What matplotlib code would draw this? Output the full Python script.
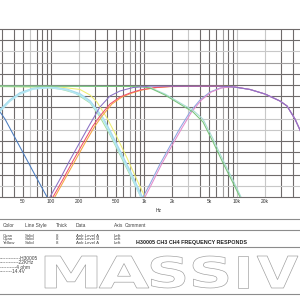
import matplotlib
matplotlib.use('Agg')
import matplotlib.pyplot as plt
from matplotlib.textpath import TextPath
from matplotlib.patches import PathPatch
from matplotlib.font_manager import FontProperties
from matplotlib.transforms import Affine2D
from matplotlib.lines import Line2D

# ---------------- data (Hz, dB) ----------------
blue_f = [22.1, 28.3, 32.0, 46.4, 67.3, 90.6, 102.5]
blue_db = [-1.61, -4.82, -6.07, -11.07, -16.07, -20.0, -21.6]

cyanA_f = [23.2, 28.3, 36.2, 46.4, 64.0, 97.5, 149, 205, 263, 362, 431, 552, 707, 952, 1104]
cyanA_db = [-6.25, -4.46, -2.68, -1.43, -0.63, -0.36, -0.80, -1.61, -2.86, -5.89, -8.21, -11.79, -15.36, -20.0, -21.79]
cyanB_f = [23.2, 28.3, 36.2, 46.4, 64.0, 97.5, 149, 205, 263, 362, 431, 552, 707, 928, 1077]
cyanB_db = [-6.43, -4.70, -2.86, -1.61, -0.71, -0.45, -0.89, -1.79, -3.04, -6.07, -8.57, -12.14, -15.71, -20.0, -21.96]

lgreen_f = [22.1, 76.2, 125, 181, 263, 336, 431, 552, 707, 928, 1077]
lgreen_db = [-0.27, -0.36, -0.71, -1.43, -3.21, -5.71, -8.93, -12.5, -16.07, -20.0, -21.96]

yellow_f = [22.1, 125, 205, 263, 312, 400, 512, 657, 841, 1025, 1160]
yellow_db = [-0.23, -0.36, -0.80, -1.79, -3.04, -5.89, -9.29, -13.04, -16.96, -20.0, -21.79]

green_f = [22.1, 906, 1160, 1682, 2630, 3365, 4310, 5525, 7070, 9065, 10770, 12200]
green_db = [-0.18, -0.27, -0.54, -1.79, -3.75, -4.82, -6.61, -10.18, -13.93, -17.5, -20.0, -21.96]
teal_db = [-0.20, -0.25, -0.45, -1.60, -3.50, -4.50, -6.10, -9.60, -13.40, -17.0, -19.6, -21.5]

purple_f = [86.1, 97.5, 125, 160, 205, 263, 336, 431, 552, 762, 1160, 6560, 9500, 13800,
            20000, 29000, 34500, 42000, 47600, 53800]
purple_db = [-21.79, -20.0, -16.79, -13.39, -10.18, -6.96, -3.93, -1.96, -1.07, -0.45, -0.21, -0.21,
             -0.36, -0.80, -1.61, -2.86, -3.75, -6.07, -8.04, -10.18]

red_f = [92.9, 105, 135, 172, 221, 282, 336, 431, 552, 707, 906, 1313, 1904, 6560, 9500, 13800,
         20000, 29000, 34500, 42000, 47600, 53800]
red_db = [-21.79, -20.0, -16.79, -13.57, -10.36, -7.32, -5.54, -3.39, -2.14, -1.43, -0.89, -0.45,
          -0.27, -0.23, -0.36, -0.80, -1.61, -2.86, -3.75, -6.07, -8.04, -10.18]

orange_f = [97.5, 110, 141, 181, 232, 297, 354, 453, 580, 743, 952, 1380, 2000, 8410]
orange_db = [-21.79, -20.0, -16.79, -13.57, -10.36, -7.32, -5.54, -3.39, -2.14, -1.43, -0.89, -0.45,
             -0.27, -0.25]

lav_f = [906, 976, 1160, 1486, 1904, 2440, 3120, 4000, 5125, 6560, 8410, 13800, 20000, 29000,
         34500, 42000, 47600, 53800]
lav_db = [-21.43, -20.0, -17.68, -14.11, -10.89, -7.68, -4.82, -2.68, -1.25, -0.54, -0.27, -0.80,
          -1.61, -2.86, -3.75, -6.07, -8.04, -10.18]

pink_f = [952, 1025, 1210, 1550, 1990, 2560, 3250, 4150, 5300, 6800, 9000, 13800, 20000, 29000,
          34500, 42000, 47600, 53800]
pink_db = [-21.43, -20.0, -17.68, -14.11, -10.89, -7.68, -4.82, -2.68, -1.25, -0.54, -0.27, -0.80,
           -1.61, -2.86, -3.75, -6.07, -8.04, -10.18]

grid_f = [20, 30, 40, 50, 60, 70, 80, 90, 100, 200, 300, 400, 500, 600, 700, 800, 900, 1000,
          2000, 3000, 4000, 5000, 6000, 7000, 8000, 9000, 10000, 20000, 30000, 40000]
grid_f_shade = ['d', 'd', 'd', 'd', 'L', 'd', 'd', 'd', 'd', 'L', 'd', 'd', 'd', 'd', 'M', 'd', 'd', 'd',
                'd', 'L', 'd', 'd', 'd', 'M', 'd', 'd', 'L', 'L', 'd', 'd']
grid_db = [8, 6, 4, 2, 0, -2, -4, -6, -8, -10, -12, -14, -16, -18]
grid_db_shade = ['d', 'L', 'M', 'd', 'd', 'd', 'd', 'L', 'L', 'd', 'd', 'd', 'd', 'L']

tick_vals = [50, 100, 200, 500, 1000, 2000, 5000, 10000, 20000]
tick_text = ['50', '100', '200', '500', '1k', '2k', '5k', '10k', '20k']

table_header = ['Color', 'Line Style', 'Thick', 'Data', 'Axis', 'Comment']
table_rows = [['Cyan', 'Solid', '8', 'Anlr.Level A', 'Left'],
              ['Cyan', 'Solid', '8', 'Anlr.Level B', 'Left'],
              ['Yellow', 'Solid', '8', 'Anlr.Level A', 'Left']]
title_text = 'H30005 CH3 CH4 FREQUENCY RESPONDS'
notes = ['H30005', '22KHz', '4 ohm', '14.4V']
logo = 'MASSIV'

# ---------------- figure ----------------
W = H = 300
fig = plt.figure(figsize=(3, 3), dpi=100)
fig.patch.set_facecolor('white')


def fx(px):
    return px / W


def fy(py):
    return 1 - py / H


ax = fig.add_axes([fx(-42), fy(197), (330 + 42) / W, (197 - 29) / H])
ax.set_xscale('log')
ax.set_xlim(10, 100000)
ax.set_ylim(-20, 10)

shade_col = {'d': '#6f6b6b', 'M': '#a09e9e', 'L': '#c8c8c8'}
for f, s in zip(grid_f, grid_f_shade):
    ax.axvline(f, color=shade_col[s], lw=0.8, zorder=1)
for d, s in zip(grid_db, grid_db_shade):
    ax.axhline(d, color=shade_col[s], lw=0.8, zorder=1)

for sp in ['left', 'right']:
    ax.spines[sp].set_visible(False)
for sp in ['top', 'bottom']:
    ax.spines[sp].set_color('#6f6b6b')
    ax.spines[sp].set_linewidth(0.8)

ax.set_yticks([])
ax.set_xticks(tick_vals)
ax.set_xticklabels(tick_text)
ax.minorticks_off()
ax.tick_params(axis='x', length=0, pad=1.5, labelsize=3.5, labelcolor='#333333')
for lab in ax.get_xticklabels():
    lab.set_fontfamily('Liberation Sans')

lw = 0.75
ax.plot(blue_f, blue_db, color='#4a7cc0', lw=lw, zorder=3)
ax.plot(lgreen_f, lgreen_db, color='#a6e0a0', lw=lw, zorder=3)
ax.plot(yellow_f, yellow_db, color='#eeee70', lw=lw, zorder=3)
ax.plot(cyanA_f, cyanA_db, color='#9fd8ec', lw=1.2, zorder=3)
ax.plot(cyanB_f, cyanB_db, color='#b4e6f2', lw=1.2, zorder=3)
ax.plot(orange_f, orange_db, color='#f6a640', lw=lw, zorder=3)
ax.plot(red_f, red_db, color='#f0506c', lw=lw, zorder=3)
ax.plot(lav_f, lav_db, color='#8ea4e0', lw=lw, zorder=3)
ax.plot(pink_f, pink_db, color='#e38ccc', lw=lw, zorder=3)
ax.plot(green_f, teal_db, color='#a8dcd6', lw=lw, zorder=3)
ax.plot(green_f, green_db, color='#78c47a', lw=lw, zorder=4)
ax.plot(purple_f, purple_db, color='#8a70c4', lw=lw, zorder=4)

# x label
fig.text(fx(159), fy(210), 'Hz', fontsize=3.5, color='#333333', ha='center', va='center',
         family='Liberation Sans')


def hline(y, color='#8c8c8c', lw_=0.8):
    fig.add_artist(Line2D([0, 1], [fy(y), fy(y)], color=color, lw=lw_, transform=fig.transFigure))


hline(218.7)
hline(230.3)
hline(247.3)
hline(294.0)

col_x = [2.7, 25, 56, 76, 114, 125]
for x, t in zip(col_x, table_header):
    fig.text(fx(x), fy(225.7), t, fontsize=3.5, color='#444444', va='center', family='Liberation Sans')
row_y = [236.0, 239.4, 242.8]
for y, row in zip(row_y, table_rows):
    for x, t in zip(col_x[:5], row):
        fig.text(fx(x), fy(y), t, fontsize=3.2, color='#444444', va='center', family='Liberation Sans')

fig.text(fx(136), fy(242.3), title_text, fontsize=3.9, weight='bold', color='#222222', va='center',
         family='Liberation Sans')

note_y = [258.5, 263.0, 267.3, 271.5]
note_dash = [13, 12, 10, 8]
for y, t, n in zip(note_y, notes, note_dash):
    fig.text(fx(0), fy(y), '-' * n + t, fontsize=3.5, color='#444444', va='center',
             family='Liberation Sans')

# outlined logo
prop = FontProperties(family='DejaVu Sans', weight='bold')
boxes = [(45, 97), (99, 149), (151, 185), (193, 228), (238, 248), (257, 298)]
for ch, (x0, x1) in zip(logo, boxes):
    tp = TextPath((0, 0), ch, size=10, prop=prop)
    bb = tp.get_extents()
    sx = (x1 - x0) / bb.width / W
    sy = (288 - 256) / bb.height / H
    tr = Affine2D().translate(-bb.x0, -bb.y0).scale(sx, sy).translate(fx(x0), fy(288)) + fig.transFigure
    fig.add_artist(PathPatch(tp, transform=tr, facecolor='white', edgecolor='#9a9a9a', lw=0.45))

fig.savefig('out.png', dpi=100, facecolor='white')
